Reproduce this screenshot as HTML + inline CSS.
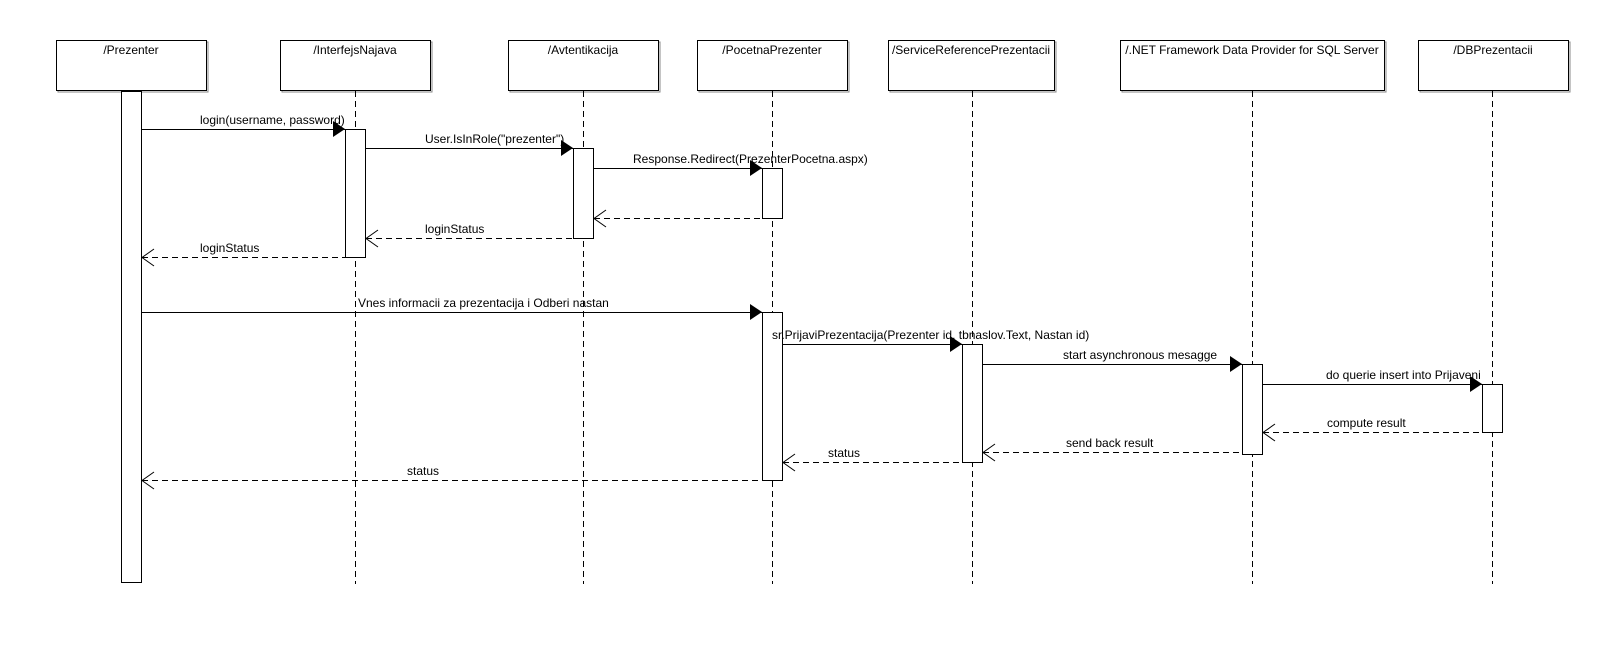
<!DOCTYPE html>
<html><head><meta charset="utf-8"><style>
html,body{margin:0;padding:0;background:#fff;}
svg{display:block;}
text{font-family:"Liberation Sans",sans-serif;font-size:12px;fill:#000;}
</style></head><body>
<svg width="1622" height="655" viewBox="0 0 1622 655" xmlns="http://www.w3.org/2000/svg">
<g stroke="#000" stroke-width="1" fill="none" shape-rendering="crispEdges">
<!-- boxes shadow -->
<g stroke="#888">
<rect x="58" y="42" width="150" height="50"/>
<rect x="282" y="42" width="150" height="50"/>
<rect x="510" y="42" width="150" height="50"/>
<rect x="699" y="42" width="150" height="50"/>
<rect x="890" y="42" width="166" height="50"/>
<rect x="1122" y="42" width="264" height="50"/>
<rect x="1420" y="42" width="150" height="50"/>
</g>
<rect x="56.5" y="40.5" width="150" height="50" fill="#fff"/>
<rect x="280.5" y="40.5" width="150" height="50" fill="#fff"/>
<rect x="508.5" y="40.5" width="150" height="50" fill="#fff"/>
<rect x="697.5" y="40.5" width="150" height="50" fill="#fff"/>
<rect x="888.5" y="40.5" width="166" height="50" fill="#fff"/>
<rect x="1120.5" y="40.5" width="264" height="50" fill="#fff"/>
<rect x="1418.5" y="40.5" width="150" height="50" fill="#fff"/>
<!-- lifelines -->
<g stroke-dasharray="6,4">
<line x1="355.5" y1="91" x2="355.5" y2="584"/>
<line x1="583.5" y1="91" x2="583.5" y2="584"/>
<line x1="772.5" y1="91" x2="772.5" y2="584"/>
<line x1="972.5" y1="91" x2="972.5" y2="584"/>
<line x1="1252.5" y1="91" x2="1252.5" y2="584"/>
<line x1="1492.5" y1="91" x2="1492.5" y2="584"/>
</g>
<!-- activations -->
<rect x="121.5" y="91.5" width="20" height="491" fill="#fff"/>
<rect x="345.5" y="129.5" width="20" height="128" fill="#fff"/>
<rect x="573.5" y="148.5" width="20" height="90" fill="#fff"/>
<rect x="762.5" y="168.5" width="20" height="50" fill="#fff"/>
<rect x="762.5" y="312.5" width="20" height="168" fill="#fff"/>
<rect x="962.5" y="344.5" width="20" height="118" fill="#fff"/>
<rect x="1242.5" y="364.5" width="20" height="90" fill="#fff"/>
<rect x="1482.5" y="384.5" width="20" height="48" fill="#fff"/>
<!-- sync messages -->
<line x1="141" y1="129.5" x2="345" y2="129.5"/>
<line x1="365" y1="148.5" x2="573" y2="148.5"/>
<line x1="593" y1="168.5" x2="762" y2="168.5"/>
<line x1="141" y1="312.5" x2="762" y2="312.5"/>
<line x1="782" y1="344.5" x2="962" y2="344.5"/>
<line x1="982" y1="364.5" x2="1242" y2="364.5"/>
<line x1="1262" y1="384.5" x2="1482" y2="384.5"/>
<!-- returns -->
<g stroke-dasharray="6,4">
<line x1="594" y1="218.5" x2="762" y2="218.5"/>
<line x1="366" y1="238.5" x2="573" y2="238.5"/>
<line x1="142" y1="257.5" x2="345" y2="257.5"/>
<line x1="1263" y1="432.5" x2="1482" y2="432.5"/>
<line x1="983" y1="452.5" x2="1242" y2="452.5"/>
<line x1="783" y1="462.5" x2="962" y2="462.5"/>
<line x1="142" y1="480.5" x2="762" y2="480.5"/>
</g>
</g>
<!-- filled arrowheads -->
<g fill="#000">
<polygon points="345,129 333,121 333,137"/>
<polygon points="573,148 561,140 561,156"/>
<polygon points="762,168 750,160 750,176"/>
<polygon points="762,312 750,304 750,320"/>
<polygon points="962,344 950,336 950,352"/>
<polygon points="1242,364 1230,356 1230,372"/>
<polygon points="1482,384 1470,376 1470,392"/>
</g>
<!-- open arrowheads -->
<g stroke="#000" fill="none">
<polyline points="606,210 594,218.5 606,227"/>
<polyline points="378,230 366,238.5 378,247"/>
<polyline points="154,249 142,257.5 154,266"/>
<polyline points="1275,424 1263,432.5 1275,441"/>
<polyline points="995,444 983,452.5 995,461"/>
<polyline points="795,454 783,462.5 795,471"/>
<polyline points="154,472 142,480.5 154,489"/>
</g>
<!-- header labels -->
<g text-anchor="middle">
<text x="131" y="54">/Prezenter</text>
<text x="355" y="54">/InterfejsNajava</text>
<text x="583" y="54">/Avtentikacija</text>
<text x="772" y="54">/PocetnaPrezenter</text>
<text x="971" y="54">/ServiceReferencePrezentacii</text>
<text x="1252" y="54">/.NET Framework Data Provider for SQL Server</text>
<text x="1493" y="54">/DBPrezentacii</text>
</g>
<!-- message labels -->
<text x="200" y="124">login(username, password)</text>
<text x="425" y="143">User.IsInRole("prezenter")</text>
<text x="633" y="163">Response.Redirect(PrezenterPocetna.aspx)</text>
<text x="425" y="233">loginStatus</text>
<text x="200" y="252">loginStatus</text>
<text x="358" y="307">Vnes informacii za prezentacija i Odberi nastan</text>
<text x="772" y="339">sr.PrijaviPrezentacija(Prezenter id, tbnaslov.Text, Nastan id)</text>
<text x="1063" y="359">start asynchronous mesagge</text>
<text x="1326" y="379">do querie insert into Prijaveni</text>
<text x="1327" y="427">compute result</text>
<text x="1066" y="447">send back result</text>
<text x="828" y="457">status</text>
<text x="407" y="475">status</text>
</svg>
</body></html>
